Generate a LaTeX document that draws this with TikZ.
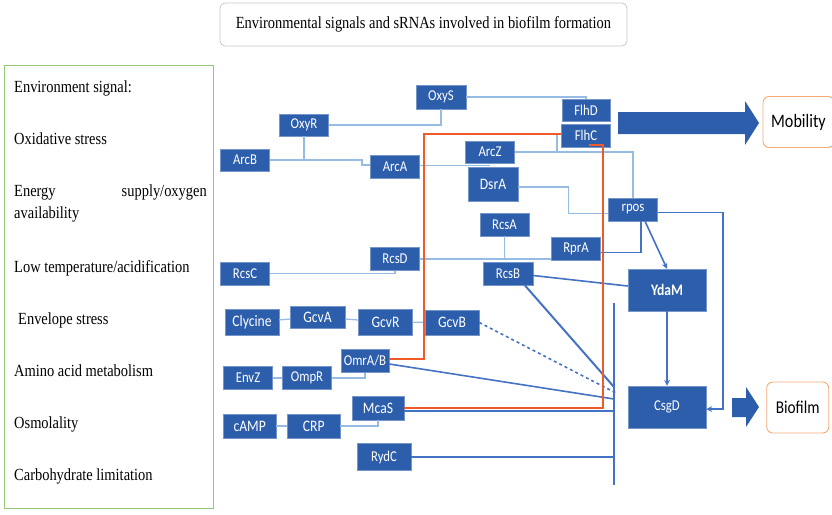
\documentclass[tikz,border=0pt]{standalone}
\usepackage{fontspec}
\setmainfont{Liberation Serif}
\newfontfamily\labelfont[FakeStretch=0.85]{Carlito}
\newfontfamily\signalfont[FakeStretch=0.85]{Liberation Serif}
\usetikzlibrary{positioning}

\definecolor{geneblue}{RGB}{44,94,172}
\definecolor{liteblue}{RGB}{150,188,228}
\definecolor{darkblue}{RGB}{68,114,196}
\definecolor{sigred}{RGB}{240,90,40}
\definecolor{framegreen}{RGB}{150,200,115}
\definecolor{outorange}{RGB}{244,170,120}

\tikzset{
  gene/.style={fill=geneblue, draw=geneblue!65!white, line width=0.5pt, text=white,
    font=\labelfont\fontsize{15}{15}\selectfont, minimum width=49pt, minimum height=23pt, inner sep=0pt},
  biggene/.style={gene, minimum width=78pt, minimum height=42pt},
  outcome/.style={draw=outorange, line width=0.9pt, rounded corners=6pt, fill=white,
    font=\labelfont\fontsize{19}{19}\selectfont, minimum height=51pt, inner sep=0pt},
  signal/.style={anchor=base west, inner sep=0pt, font=\signalfont\fontsize{17}{19}\selectfont},
  lite/.style={draw=liteblue, line width=1.3pt},
  dark/.style={draw=darkblue, line width=1.6pt},
  redline/.style={draw=sigred, line width=1.6pt},
}

\begin{document}
\begin{tikzpicture}[x=1pt, y=-1pt, >=stealth]
  \useasboundingbox (0,0) rectangle (832,514);

  % title and signal list
  \node[draw=gray!45, line width=0.8pt, rounded corners=5pt, minimum width=407pt, minimum height=43pt,
        font=\signalfont\fontsize{17}{19}\selectfont] (title) at (423.5,24.5)
        {Environmental signals and sRNAs involved in biofilm formation};
  \node[draw=framegreen, line width=1pt, minimum width=209pt, minimum height=443pt] (frame) at (108.5,286.5) {};
  \node[signal] (s0) at (14,92)  {Environment signal:};
  \node[signal] (s1) at (14,144) {Oxidative stress};
  \node[signal] (s2) at (14,196) {Energy};
  \node[signal, anchor=base east] (s2b) at (207,196) {supply/oxygen};
  \node[signal] (s2c) at (14,218) {availability};
  \node[signal] (s3) at (14,272) {Low temperature/acidification};
  \node[signal] (s4) at (18,324) {Envelope stress};
  \node[signal] (s5) at (14,376) {Amino acid metabolism};
  \node[signal] (s6) at (14,428) {Osmolality};
  \node[signal] (s7) at (14,480) {Carbohydrate limitation};

  % genes and sRNAs
  \node[gene, minimum width=50pt, minimum height=24pt] (OxyS) at (441,97) {OxyS};
  \node[gene, minimum height=22pt] (OxyR) at (304,125) {OxyR};
  \node[gene, minimum height=22pt] (ArcB) at (245,160) {ArcB};
  \node[gene] (ArcA) at (395,166.5) {ArcA};
  \node[gene, minimum height=22pt] (ArcZ) at (490,152) {ArcZ};
  \node[gene, minimum width=50pt, minimum height=34pt, font=\labelfont\fontsize{16}{16}\selectfont] (DsrA) at (493,184) {DsrA};
  \node[gene, minimum width=48pt, minimum height=22pt] (FlhD) at (586,110) {FlhD};
  \node[gene] (FlhC) [below=2.3pt of FlhD] {FlhC};
  \node[gene] (rpos) at (633,209.5) {rpos};
  \node[gene] (RcsA) at (504.5,224.5) {RcsA};
  \node[gene] (RprA) at (576,248.5) {RprA};
  \node[gene, minimum width=50pt] (RcsB) at (508,273.5) {RcsB};
  \node[gene] (RcsD) at (395,259) {RcsD};
  \node[gene] (RcsC) at (245,273.7) {RcsC};
  \node[biggene, font=\labelfont\bfseries\fontsize{16}{16}\selectfont] (YdaM) at (667,290) {YdaM};
  \node[gene, font=\labelfont\fontsize{16}{16}\selectfont, minimum width=54pt, minimum height=26pt] (Clycine) at (252,322) {Clycine};
  \node[gene, font=\labelfont\fontsize{16}{16}\selectfont, minimum width=55pt, minimum height=22pt] (GcvA) at (317.5,317) {GcvA};
  \node[gene, font=\labelfont\fontsize{16}{16}\selectfont, minimum width=54pt, minimum height=26pt] (GcvR) at (385.5,322) {GcvR};
  \node[gene, font=\labelfont\fontsize{16}{16}\selectfont, minimum width=54pt, minimum height=25pt] (GcvB) at (452,322.5) {GcvB};
  \node[gene] (EnvZ) at (248,378) {EnvZ};
  \node[gene] (OmpR) at (307,378) {OmpR};
  \node[gene, minimum width=48pt] (OmrA) at (365,361) {OmrA/B};
  \node[gene, font=\labelfont\fontsize{16}{16}\selectfont, minimum width=53pt, minimum height=24pt] (cAMP) at (249.7,426) {cAMP};
  \node[gene, font=\labelfont\fontsize{16}{16}\selectfont, minimum width=53pt, minimum height=24pt] (CRP) at (313.7,426) {CRP};
  \node[gene, font=\labelfont\fontsize{16}{16}\selectfont, minimum width=52pt, minimum height=24pt] (McaS) at (378,408) {McaS};
  \node[gene, minimum width=54pt, minimum height=27pt] (RydC) at (384,457) {RydC};
  \node[biggene] (CsgD) at (667,407) {CsgD};

  \node[outcome, minimum width=71pt] (Mobility) at (798.5,122) {Mobility};
  \node[outcome, minimum width=62pt, font=\labelfont\fontsize{18}{18}\selectfont] (Biofilm) at (797.7,407.5) {Biofilm};

  % big arrows
  \fill[geneblue] (618,112) -- (745,112) -- (745,101) -- (759,123) -- (745,145) -- (745,134) -- (618,134) -- cycle;
  \fill[geneblue] (732,398) -- (746,398) -- (746,387) -- (759,407) -- (746,427) -- (746,417) -- (732,417) -- cycle;

  % light connectors
  \coordinate (hop) at (362,160);
  \coordinate (fz) at (557,152);
  \coordinate (redtl) at (424,134);
  \draw[lite] (OxyR.east) -| (OxyS.south);
  \draw[lite] (OxyS.east) -| (FlhD.north);
  \draw[lite] (OxyR.south) -- (OxyR.south |- ArcB.east);
  \draw[lite] (ArcB.east) -- (hop) |- ([yshift=1.5pt]ArcA.west);
  \draw[lite] ([yshift=1pt]ArcA.east) -- ([yshift=1pt]ArcA.east -| ArcZ.south);
  \draw[lite] (ArcZ.east) -| (rpos.north);
  \draw[lite] (fz) -- (fz |- redtl);
  \draw[lite] ([yshift=-3pt]DsrA.east) -- ++(50,0) |- ([yshift=-4pt]rpos.west);
  \draw[lite] (RcsA.south) -- (RcsA.south |- RcsD.east);
  \draw[lite] (RcsD.east) -- (RcsD.east -| RprA.west);
  \draw[lite] (RcsC.east) -| (RcsD.south);
  \path[lite]
    (Clycine) edge (GcvA)
    (GcvA)    edge (GcvR)
    (GcvR)    edge (GcvB)
    (EnvZ)    edge (OmpR)
    (cAMP)    edge (CRP);
  \draw[lite] (OmpR.east) -| (OmrA.south);
  \draw[lite] (CRP.east) -| (McaS.south);

  % collecting bar and dark connectors
  \coordinate (bartop) at (614,303);
  \coordinate (barbot) at (614,485);
  \draw[dark] (bartop) -- (barbot);
  \draw[dark, line width=2pt] (RcsB.-35) -- (614,387);
  \draw[dark, dashed] (GcvB.east) -- (616,393);
  \draw[dark] ([yshift=-3pt]OmrA.east) -- (614,399);
  \draw[dark] ([yshift=-3pt]McaS.east) -- ([yshift=-3pt]McaS.east -| bartop);
  \draw[dark] (RydC.east) -- (RydC.east -| bartop);
  \draw[dark] ([yshift=-2pt]RcsB.east) -- ([yshift=4pt]YdaM.west);
  \draw[dark] ([xshift=8pt]rpos.south) |- ([yshift=-4pt]RprA.east);
  \draw[dark, ->] ([xshift=12pt]rpos.south) -- (YdaM.north);
  \draw[dark, ->] ([yshift=-3pt]rpos.east) -- ++(65,0) |- ([yshift=-2pt]CsgD.east);
  \draw[dark, ->] (YdaM.south) -- (CsgD.north);

  % red connectors
  \coordinate (redtr) at (603,145);
  \draw[redline] ([yshift=2pt]OmrA.east) -| (redtl) -- (redtl -| FlhC.west);
  \draw[redline] (McaS.east) -| (redtr) -- ([xshift=3pt]redtr -| FlhC.south);
\end{tikzpicture}
\end{document}
